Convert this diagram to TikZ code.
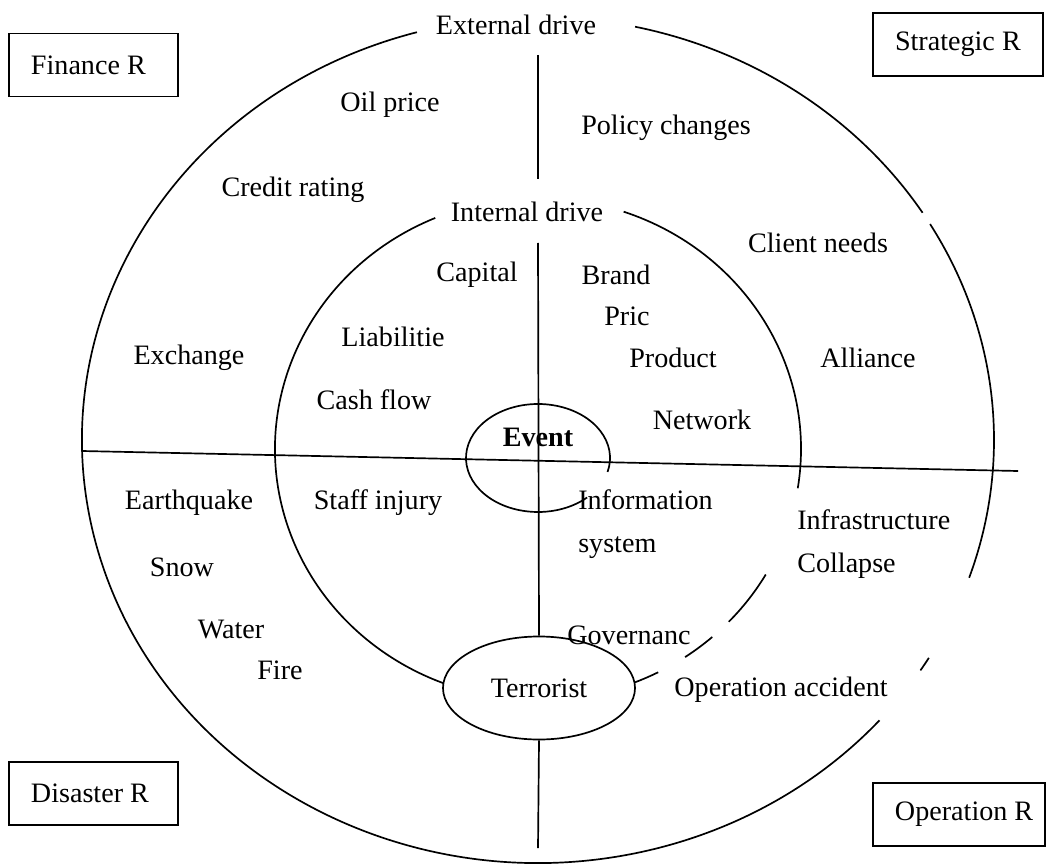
\documentclass[tikz,border=0pt]{standalone}
\usepackage{fontspec}
\setmainfont{Liberation Serif}
\usepackage{tikz}
\usetikzlibrary{shapes.geometric, positioning}

\begin{document}
\begin{tikzpicture}[x=0.025cm, y=0.025cm,
    every node/.style={font=\fontsize{20}{30.6}\selectfont, inner sep=0pt},
    ring/.style={line width=1.2pt},
    riskbox/.style={draw, line width=1.2pt, inner xsep=0.55cm, minimum height=1.575cm},
    item/.style={align=left}]
    \useasboundingbox (0,0) rectangle (1056,864);

    % centres of the rings
    \coordinate (outer) at (538,424);
    \coordinate (inner) at (538,415);
    \coordinate (core) at (538,406);

    % quadrant lines
    \coordinate (hleft) at (82,413);
    \coordinate (hright) at (1018,393);
    \coordinate (vtop) at (538,809);
    \coordinate (vtopend) at (538,685);
    \coordinate (vmid) at (538,621);
    \coordinate (vbot) at (538,16);
    \draw[ring] (hleft) -- (hright);
    \draw[ring] (vtop) -- (vtopend);

    % outer ring, broken in places
    \draw[ring] (outer) ++(105.4:456 and 423) arc[start angle=105.4, end angle=318.5, x radius=456, y radius=423];
    \draw[ring] (outer) ++(-33:456 and 423) arc[start angle=-33, end angle=-31, x radius=456, y radius=423];
    \draw[ring] (outer) ++(-19:456 and 423) arc[start angle=-19, end angle=30.7, x radius=456, y radius=423];
    \draw[ring] (outer) ++(32.5:456 and 423) arc[start angle=32.5, end angle=77.7, x radius=456, y radius=423];

    % inner ring
    \draw[ring] (inner) ++(113:263 and 251) arc[start angle=113, end angle=249, x radius=263, y radius=251];
    \draw[ring] (inner) ++(71:263 and 251) arc[start angle=71, end angle=-9, x radius=263, y radius=251];
    \draw[ring] (inner) ++(-30:263 and 251) arc[start angle=-30, end angle=-43.5, x radius=263, y radius=251];
    \draw[ring] (inner) ++(-48.5:263 and 251) arc[start angle=-48.5, end angle=-56, x radius=263, y radius=251];
    \draw[ring] (inner) ++(-62.8:263 and 251) arc[start angle=-62.8, end angle=-70, x radius=263, y radius=251];

    % event ring with its gap
    \draw[ring] (core) ++(-15:72 and 54) arc[start angle=-15, end angle=313, x radius=72, y radius=54];

    \node[ellipse, draw, ring, fill=white, minimum width=4.8cm, minimum height=2.575cm] (terror) at (539,176) {Terrorist};
    \draw[ring] (vmid) -- (terror.north);
    \draw[ring] (terror.south) -- (vbot);

    % ring labels
    \node[fill=white, inner xsep=3pt] (extdrive) at (516,839) {External drive};
    \node (intdrive) at (527,652) {Internal drive};
    \node (event) at (538,427) {\bfseries Event};

    % corner boxes
    \node[riskbox] (finance) at (93.5,799) {\makebox[3.125cm][l]{Finance R}};
    \node[riskbox] (strategic) at (958,819.5) {\makebox[3.15cm][l]{Strategic R}};
    \node[riskbox] (disaster) at (93.5,70.5) {\makebox[3.125cm][l]{Disaster R}};
    \node[riskbox] (operation) at (959,49.5) {\makebox[3.2cm][l]{Operation R}};

    % risk items
    \node[item] (oil) at (390,759) {Oil price};
    \node[item] (policy) at (666,736) {Policy changes};
    \node[item] (credit) at (293,674) {Credit rating};
    \node[item] (client) at (818,621) {Client needs};
    \node[item] (capital) at (477,589) {Capital};
    \node[item] (brand) at (616,589) {Brand};
    \node[item] (pric) at (627,548) {Pric};
    \node[item] (liab) at (393,527) {Liabilitie};
    \node[item] (exchange) at (189,506) {Exchange};
    \node[item] (product) at (673,506) {Product};
    \node[item] (alliance) at (868,506) {Alliance};
    \node[item] (cash) at (374,464) {Cash flow};
    \node[item] (network) at (702,444) {Network};
    \node[item] (quake) at (189,361) {Earthquake};
    \node[item] (staff) at (378,361) {Staff injury};
    \node[item, anchor=west] (infosys) at (578,339.5) {Information\\system};
    \node[item, anchor=west] (infra) at (797,320) {Infrastructure\\Collapse};
    \node[item] (snow) at (182,297) {Snow};
    \node[item] (water) at (231,235) {Water};
    \node[item] (govern) at (629,229) {Governanc};
    \node[item] (fire) at (280,194) {Fire};
    \node[item] (opacc) at (781,174) {Operation accident};
\end{tikzpicture}
\end{document}
